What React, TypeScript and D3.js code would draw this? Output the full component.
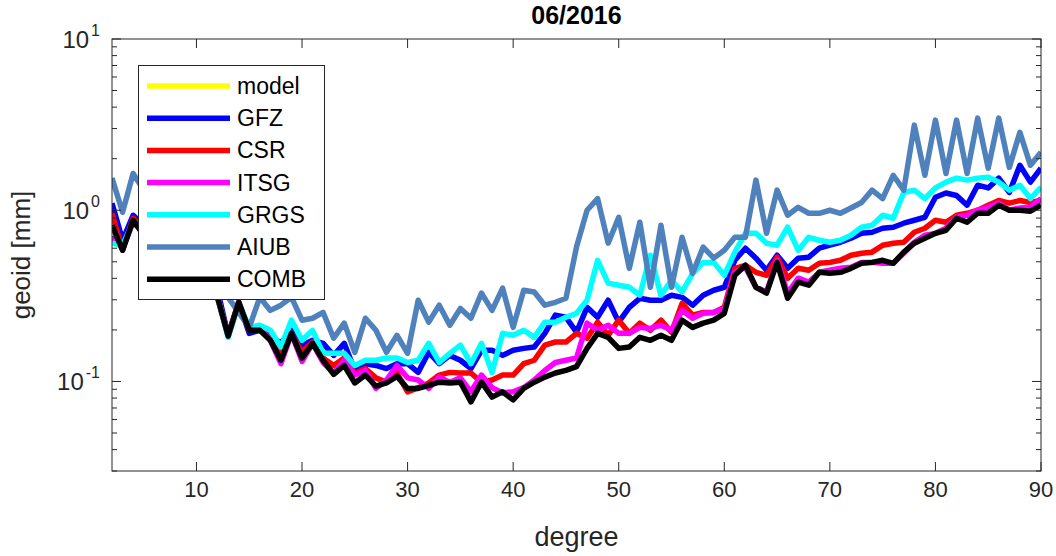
import { useRef, useEffect } from "react";
import * as d3 from "d3";

// spherical harmonic degree (x categories)
const DEGREES = d3.range(2, 91);

// degree amplitudes, geoid height in mm (degrees 2..90)
const MODEL: number[] = []; // not visible in the picture (covered)
const GFZ = [
  1.10, 0.668, 0.935, 0.817, 0.744, 0.668, 0.600, 0.546, 0.496, 0.434, 0.341,
  0.186, 0.290, 0.191, 0.199, 0.186, 0.167, 0.199, 0.163, 0.174, 0.167,
  0.142, 0.167, 0.116, 0.127, 0.124, 0.119, 0.127, 0.127, 0.113, 0.148,
  0.127, 0.142, 0.133, 0.119, 0.152, 0.152, 0.142, 0.152, 0.156, 0.159,
  0.191, 0.244, 0.237, 0.194, 0.271, 0.237, 0.298, 0.222, 0.271, 0.306,
  0.298, 0.298, 0.319, 0.310, 0.279, 0.319, 0.341, 0.355, 0.510, 0.600,
  0.525, 0.446, 0.546, 0.458, 0.525, 0.532, 0.600, 0.625, 0.650, 0.686,
  0.733, 0.744, 0.785, 0.796, 0.840, 0.874, 0.910, 1.19, 1.26, 1.22,
  1.07, 1.40, 1.35, 1.54, 1.27, 1.83, 1.46, 1.76,
];
const CSR = [
  0.960, 0.584, 0.898, 0.764, 0.686, 0.625, 0.569, 0.510, 0.458, 0.401, 0.314,
  0.186, 0.290, 0.199, 0.204, 0.181, 0.142, 0.191, 0.148, 0.170, 0.137,
  0.124, 0.137, 0.112, 0.119, 0.105, 0.099, 0.112, 0.087, 0.092, 0.098,
  0.109, 0.113, 0.112, 0.112, 0.099, 0.102, 0.109, 0.109, 0.127, 0.133,
  0.163, 0.170, 0.170, 0.191, 0.179, 0.222, 0.186, 0.228, 0.191, 0.219,
  0.199, 0.228, 0.194, 0.286, 0.244, 0.253, 0.253, 0.271, 0.458, 0.477,
  0.434, 0.417, 0.532, 0.401, 0.458, 0.446, 0.490, 0.496, 0.510, 0.546,
  0.561, 0.569, 0.625, 0.642, 0.650, 0.744, 0.785, 0.874, 0.851, 0.935,
  0.960, 1.00, 1.07, 1.14, 1.10, 1.14, 1.11, 1.14,
];
const ITSG = [
  0.695, 0.600, 0.851, 0.744, 0.650, 0.600, 0.539, 0.496, 0.434, 0.380, 0.306,
  0.184, 0.290, 0.199, 0.204, 0.174, 0.127, 0.191, 0.131, 0.167, 0.129,
  0.112, 0.133, 0.109, 0.116, 0.091, 0.102, 0.124, 0.105, 0.102, 0.091,
  0.106, 0.099, 0.105, 0.087, 0.109, 0.092, 0.086, 0.087, 0.092, 0.102,
  0.116, 0.129, 0.133, 0.137, 0.219, 0.199, 0.213, 0.191, 0.191, 0.207,
  0.204, 0.213, 0.199, 0.260, 0.234, 0.250, 0.253, 0.267, 0.434, 0.464,
  0.355, 0.333, 0.510, 0.328, 0.401, 0.380, 0.434, 0.446, 0.458, 0.464,
  0.496, 0.496, 0.490, 0.490, 0.561, 0.650, 0.714, 0.733, 0.785, 0.910,
  0.935, 1.00, 1.04, 1.10, 1.00, 1.03, 1.04, 1.17,
];
const GRGS = [
  0.642, 0.625, 0.851, 0.744, 0.668, 0.609, 0.553, 0.496, 0.446, 0.390, 0.314,
  0.181, 0.286, 0.207, 0.213, 0.199, 0.159, 0.228, 0.174, 0.199, 0.146,
  0.146, 0.146, 0.124, 0.133, 0.133, 0.137, 0.137, 0.129, 0.133, 0.167,
  0.129, 0.146, 0.163, 0.127, 0.167, 0.113, 0.191, 0.186, 0.199, 0.181,
  0.222, 0.222, 0.237, 0.250, 0.298, 0.510, 0.375, 0.365, 0.355, 0.319,
  0.546, 0.319, 0.390, 0.333, 0.428, 0.496, 0.496, 0.417, 0.569, 0.733,
  0.733, 0.642, 0.625, 0.796, 0.584, 0.695, 0.668, 0.650, 0.668, 0.714,
  0.796, 0.817, 0.935, 0.898, 1.27, 1.31, 1.17, 1.35, 1.46, 1.54,
  1.50, 1.54, 1.56, 1.46, 1.31, 1.40, 1.17, 1.36,
];
const AIUB = [
  1.54, 0.973, 1.64, 1.31, 1.14, 0.935, 0.817, 0.668, 0.546, 0.446, 0.365,
  0.310, 0.253, 0.207, 0.310, 0.260, 0.279, 0.310, 0.228, 0.234, 0.253,
  0.179, 0.219, 0.148, 0.234, 0.199, 0.148, 0.186, 0.146, 0.298, 0.222,
  0.279, 0.213, 0.267, 0.234, 0.328, 0.260, 0.351, 0.207, 0.341, 0.333,
  0.279, 0.290, 0.306, 0.609, 1.00, 1.17, 0.642, 0.910, 0.458, 0.851,
  0.355, 0.817, 0.355, 0.695, 0.428, 0.609, 0.525, 0.584, 0.695, 0.695,
  1.50, 0.733, 1.31, 0.935, 1.04, 0.960, 0.960, 1.00, 0.960, 1.03,
  1.11, 1.31, 1.17, 1.60, 1.31, 3.14, 1.60, 3.36, 1.64, 3.36,
  1.64, 3.45, 1.76, 3.45, 1.78, 2.85, 1.83, 2.18,
];
const COMB = [
  0.817, 0.584, 0.874, 0.714, 0.668, 0.584, 0.546, 0.496, 0.446, 0.390, 0.310,
  0.184, 0.290, 0.199, 0.199, 0.174, 0.133, 0.191, 0.137, 0.167, 0.133,
  0.110, 0.124, 0.098, 0.109, 0.094, 0.098, 0.107, 0.091, 0.091, 0.095,
  0.099, 0.098, 0.099, 0.076, 0.099, 0.081, 0.087, 0.078, 0.091, 0.099,
  0.106, 0.112, 0.116, 0.122, 0.156, 0.191, 0.181, 0.156, 0.159, 0.181,
  0.174, 0.186, 0.174, 0.228, 0.207, 0.219, 0.228, 0.250, 0.417, 0.477,
  0.355, 0.328, 0.496, 0.306, 0.380, 0.365, 0.434, 0.428, 0.434, 0.458,
  0.490, 0.496, 0.510, 0.490, 0.569, 0.642, 0.686, 0.733, 0.764, 0.898,
  0.851, 0.960, 0.960, 1.07, 1.00, 1.00, 0.987, 1.07,
];

const SERIES_NAMES = ["model", "GFZ", "CSR", "ITSG", "GRGS", "AIUB", "COMB"];
const SERIES_VALUES = [MODEL, GFZ, CSR, ITSG, GRGS, AIUB, COMB];
const SERIES_COLORS = ["#ffff00", "#0000ff", "#ff0000", "#ff00ff", "#00ffff", "#4f81bd", "#000000"];

const X_TICKS = [10, 20, 30, 40, 50, 60, 70, 80, 90];
const Y_MAJOR = [0.1, 1, 10];
const Y_EXPONENTS = ["-1", "0", "1"];

const FONT = "'Liberation Sans', Arial, Helvetica, sans-serif";
const AXIS_COLOR = "#262626";

export default function App() {
  const svgRef = useRef<SVGSVGElement>(null);

  useEffect(() => {
    if (!svgRef.current) return;
    const svg = d3.select(svgRef.current);
    svg.selectAll("*").remove();

    const left = 112, right = 1041, top = 39, bottom = 471;
    const x = d3.scaleLinear().domain([2, 90]).range([left, right]);
    const y = d3.scaleLog().domain([0.03, 10]).range([bottom, top]);

    svg.append("rect").attr("width", 1056).attr("height", 556).attr("fill", "#fff");

    svg.append("defs").append("clipPath").attr("id", "plot-clip")
      .append("rect").attr("x", left).attr("y", top).attr("width", right - left).attr("height", bottom - top);

    // data lines
    const line = d3.line<number>()
      .x((_, i) => x(DEGREES[i]))
      .y((d) => y(d));
    const lines = svg.append("g").attr("clip-path", "url(#plot-clip)");
    SERIES_VALUES.forEach((vals, i) => {
      if (!vals.length) return;
      lines.append("path")
        .attr("d", line(vals))
        .attr("fill", "none")
        .attr("stroke", SERIES_COLORS[i])
        .attr("stroke-width", 5.5)
        .attr("stroke-linejoin", "round");
    });

    // axes box + ticks (MATLAB style: inward, on all four sides)
    const ax = svg.append("g").attr("stroke", AXIS_COLOR).attr("stroke-width", 1).attr("fill", "none");
    ax.append("rect").attr("x", left).attr("y", top).attr("width", right - left).attr("height", bottom - top);
    X_TICKS.forEach((t) => {
      const px = x(t);
      ax.append("line").attr("x1", px).attr("x2", px).attr("y1", bottom).attr("y2", bottom - 9);
      ax.append("line").attr("x1", px).attr("x2", px).attr("y1", top).attr("y2", top + 9);
    });
    y.ticks().forEach((t) => {
      const py = y(t);
      const major = Y_MAJOR.some((m) => Math.abs(m - t) < 1e-9);
      const len = major ? 9 : 5;
      ax.append("line").attr("x1", left).attr("x2", left + len).attr("y1", py).attr("y2", py);
      ax.append("line").attr("x1", right).attr("x2", right - len).attr("y1", py).attr("y2", py);
    });

    // tick labels
    X_TICKS.forEach((t) => {
      svg.append("text").attr("x", x(t)).attr("y", bottom + 26)
        .attr("text-anchor", "middle").attr("fill", AXIS_COLOR)
        .style("font-family", FONT).style("font-size", "22px")
        .text(t);
    });
    Y_MAJOR.forEach((t, i) => {
      const txt = svg.append("text").attr("x", 100).attr("y", y(t) + 9)
        .attr("text-anchor", "end").attr("fill", AXIS_COLOR)
        .style("font-family", FONT).style("font-size", "24px");
      txt.append("tspan").text("10");
      txt.append("tspan").attr("dx", 2).attr("dy", -12).style("font-size", "16px").text(Y_EXPONENTS[i]);
    });

    // labels + title
    svg.append("text").attr("x", (left + right) / 2).attr("y", 546)
      .attr("text-anchor", "middle").attr("fill", AXIS_COLOR)
      .style("font-family", FONT).style("font-size", "27px")
      .text("degree");
    svg.append("text").attr("transform", `translate(30,${(top + bottom) / 2}) rotate(-90)`)
      .attr("text-anchor", "middle").attr("fill", AXIS_COLOR)
      .style("font-family", FONT).style("font-size", "26px")
      .text("geoid [mm]");
    svg.append("text").attr("x", (left + right) / 2).attr("y", 24)
      .attr("text-anchor", "middle").attr("fill", "#000")
      .style("font-family", FONT).style("font-size", "25px").style("font-weight", "700")
      .text("06/2016");

    // legend
    const lg = svg.append("g");
    lg.append("rect").attr("x", 138.5).attr("y", 65.5).attr("width", 186).attr("height", 234)
      .attr("fill", "#fff").attr("stroke", AXIS_COLOR).attr("stroke-width", 1);
    SERIES_NAMES.forEach((name, i) => {
      const ly = 86 + i * 32.2;
      lg.append("line").attr("x1", 147).attr("x2", 230).attr("y1", ly).attr("y2", ly)
        .attr("stroke", SERIES_COLORS[i]).attr("stroke-width", 5.5);
      lg.append("text").attr("x", 237).attr("y", ly + 8).attr("fill", "#000")
        .style("font-family", FONT).style("font-size", "23px")
        .text(name);
    });

    return () => {
      svg.selectAll("*").remove();
    };
  }, []);

  return (
    <svg
      ref={svgRef}
      width={1056}
      height={556}
      style={{ position: "absolute", left: 0, top: 0, display: "block" }}
    />
  );
}
